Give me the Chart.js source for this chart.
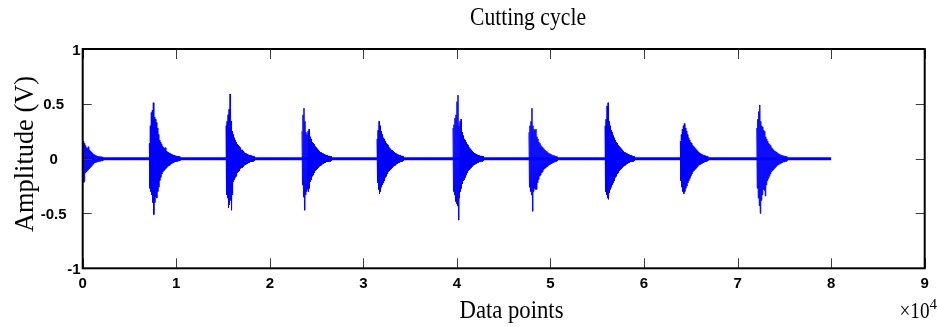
<!DOCTYPE html>
<html>
<head>
<meta charset="utf-8">
<title>Cutting cycle</title>
<script src="https://cdn.jsdelivr.net/npm/chart.js@4/dist/chart.umd.min.js"></script>
<style>
  html, body { margin: 0; padding: 0; background: #ffffff; }
  #plot { display: block; }
</style>
</head>
<body>
<canvas id="plot" width="938" height="327"></canvas>
<script>
// Axis ticks
const xTickValues = [0, 10000, 20000, 30000, 40000, 50000, 60000, 70000, 80000, 90000];
const xTickLabels = ['0', '1', '2', '3', '4', '5', '6', '7', '8', '9'];
const yTickValues = [-1, -0.5, 0, 0.5, 1];
const yTickLabels = ['-1', '-0.5', '0', '0.5', '1'];

// Recording length (data points) and the first sample of each cutting burst
const signalLength = 80000;
const burstOnsets = [0, 7120, 15320, 23440, 31460, 39580, 47700, 55830, 63880, 72050];
// Data points covered by one envelope column
const columnSpan = 107;

// Positive peak amplitude (V) of each burst, column by column from its onset
const upperEnvelope = [
  [0.17, 0.16, 0.14, 0.12, 0.10, 0.10, 0.11, 0.08, 0.07, 0.06, 0.05, 0.04, 0.036, 0.03, 0.027, 0.024, 0.02, 0.02, 0.018, 0.018, 0.015],
  [0.14, 0.30, 0.42, 0.44, 0.51, 0.38, 0.36, 0.33, 0.28, 0.22, 0.17, 0.15, 0.13, 0.11, 0.10, 0.09, 0.10, 0.07, 0.06, 0.055, 0.05, 0.045, 0.04, 0.035, 0.03, 0.03, 0.025, 0.025, 0.02, 0.02, 0.02],
  [0.30, 0.34, 0.40, 0.45, 0.59, 0.34, 0.25, 0.22, 0.19, 0.17, 0.15, 0.13, 0.12, 0.11, 0.10, 0.08, 0.08, 0.07, 0.055, 0.05, 0.045, 0.04, 0.035, 0.03, 0.03, 0.028, 0.025, 0.022, 0.02],
  [0.25, 0.40, 0.46, 0.34, 0.24, 0.22, 0.25, 0.27, 0.20, 0.18, 0.15, 0.14, 0.13, 0.11, 0.10, 0.09, 0.08, 0.07, 0.06, 0.055, 0.05, 0.045, 0.04, 0.035, 0.03, 0.03, 0.025, 0.025, 0.02, 0.02],
  [0.18, 0.26, 0.34, 0.30, 0.25, 0.22, 0.19, 0.18, 0.16, 0.14, 0.13, 0.12, 0.10, 0.09, 0.08, 0.075, 0.07, 0.06, 0.05, 0.045, 0.04, 0.035, 0.03, 0.03, 0.025, 0.025, 0.02],
  [0.28, 0.31, 0.37, 0.40, 0.52, 0.58, 0.30, 0.34, 0.36, 0.24, 0.21, 0.18, 0.17, 0.15, 0.13, 0.12, 0.10, 0.09, 0.08, 0.07, 0.06, 0.05, 0.045, 0.04, 0.035, 0.03, 0.03, 0.025, 0.025, 0.02, 0.02],
  [0.24, 0.30, 0.34, 0.46, 0.30, 0.27, 0.26, 0.27, 0.20, 0.18, 0.15, 0.14, 0.12, 0.11, 0.10, 0.09, 0.08, 0.07, 0.065, 0.055, 0.05, 0.045, 0.04, 0.035, 0.03, 0.03, 0.025, 0.022, 0.02],
  [0.30, 0.36, 0.48, 0.51, 0.34, 0.30, 0.26, 0.24, 0.21, 0.19, 0.17, 0.15, 0.14, 0.12, 0.11, 0.10, 0.09, 0.08, 0.07, 0.06, 0.055, 0.05, 0.045, 0.04, 0.035, 0.03, 0.03, 0.025, 0.022, 0.02],
  [0.16, 0.22, 0.27, 0.30, 0.32, 0.28, 0.25, 0.22, 0.19, 0.17, 0.15, 0.14, 0.12, 0.11, 0.10, 0.09, 0.08, 0.07, 0.06, 0.05, 0.045, 0.04, 0.035, 0.03, 0.03, 0.025, 0.022, 0.02],
  [0.28, 0.36, 0.43, 0.49, 0.34, 0.30, 0.29, 0.26, 0.25, 0.20, 0.18, 0.16, 0.14, 0.13, 0.12, 0.10, 0.09, 0.08, 0.07, 0.065, 0.06, 0.05, 0.045, 0.04, 0.035, 0.03, 0.03, 0.025, 0.025, 0.022, 0.02]
];

// Negative peak amplitude (V) of each burst, same columns
const lowerEnvelope = [
  [-0.22, -0.21, -0.13, -0.12, -0.11, -0.10, -0.09, -0.08, -0.07, -0.06, -0.05, -0.04, -0.036, -0.033, -0.03, -0.027, -0.024, -0.024, -0.02, -0.02, -0.018],
  [-0.27, -0.30, -0.33, -0.40, -0.51, -0.40, -0.35, -0.36, -0.30, -0.26, -0.20, -0.17, -0.14, -0.12, -0.11, -0.10, -0.09, -0.08, -0.07, -0.065, -0.06, -0.05, -0.045, -0.04, -0.035, -0.03, -0.03, -0.025, -0.025, -0.02, -0.02],
  [-0.33, -0.36, -0.45, -0.42, -0.38, -0.47, -0.33, -0.21, -0.19, -0.17, -0.16, -0.13, -0.12, -0.11, -0.09, -0.085, -0.08, -0.07, -0.06, -0.055, -0.05, -0.045, -0.04, -0.035, -0.03, -0.03, -0.028, -0.025, -0.02],
  [-0.24, -0.35, -0.47, -0.33, -0.30, -0.28, -0.30, -0.27, -0.21, -0.19, -0.16, -0.15, -0.13, -0.11, -0.10, -0.09, -0.08, -0.07, -0.065, -0.06, -0.05, -0.045, -0.04, -0.035, -0.03, -0.03, -0.028, -0.025, -0.025, -0.02],
  [-0.22, -0.28, -0.32, -0.30, -0.26, -0.24, -0.22, -0.20, -0.17, -0.16, -0.14, -0.12, -0.11, -0.10, -0.09, -0.08, -0.07, -0.065, -0.06, -0.05, -0.045, -0.04, -0.035, -0.03, -0.03, -0.025, -0.02],
  [-0.30, -0.33, -0.39, -0.41, -0.43, -0.56, -0.36, -0.30, -0.27, -0.23, -0.20, -0.19, -0.17, -0.15, -0.13, -0.11, -0.10, -0.09, -0.08, -0.07, -0.06, -0.055, -0.05, -0.045, -0.04, -0.035, -0.03, -0.03, -0.025, -0.025, -0.02],
  [-0.26, -0.30, -0.33, -0.48, -0.30, -0.27, -0.28, -0.28, -0.22, -0.19, -0.16, -0.15, -0.13, -0.12, -0.10, -0.09, -0.085, -0.075, -0.07, -0.06, -0.055, -0.05, -0.045, -0.04, -0.035, -0.03, -0.028, -0.025, -0.02],
  [-0.30, -0.33, -0.36, -0.37, -0.31, -0.28, -0.26, -0.24, -0.22, -0.20, -0.17, -0.16, -0.14, -0.13, -0.11, -0.10, -0.09, -0.08, -0.07, -0.065, -0.06, -0.05, -0.045, -0.04, -0.035, -0.03, -0.03, -0.028, -0.025, -0.02],
  [-0.20, -0.26, -0.30, -0.32, -0.30, -0.27, -0.25, -0.22, -0.20, -0.18, -0.16, -0.14, -0.12, -0.11, -0.10, -0.09, -0.08, -0.07, -0.06, -0.055, -0.05, -0.045, -0.04, -0.035, -0.03, -0.028, -0.025, -0.02],
  [-0.27, -0.36, -0.43, -0.50, -0.38, -0.33, -0.28, -0.29, -0.34, -0.24, -0.20, -0.18, -0.16, -0.14, -0.12, -0.11, -0.10, -0.09, -0.08, -0.07, -0.06, -0.055, -0.05, -0.045, -0.04, -0.035, -0.03, -0.03, -0.025, -0.025, -0.02]
];

// Each column swings from its positive peak to its negative peak,
// which fills the burst the way a dense oscillation does.
const burstPoints = [];
burstOnsets.forEach((onset, b) => {
  upperEnvelope[b].forEach((hi, i) => {
    const x0 = onset + i * columnSpan;
    burstPoints.push({ x: x0, y: hi });
    burstPoints.push({ x: x0 + columnSpan / 2, y: lowerEnvelope[b][i] });
  });
  burstPoints.push({ x: onset + upperEnvelope[b].length * columnSpan, y: null });
});

// Quiet-floor trace between bursts
const floorPoints = [{ x: 0, y: 0 }, { x: signalLength, y: 0 }];

const SERIF = '"Liberation Serif", "Times New Roman", serif';
const SANS = '"Liberation Sans", Arial, Helvetica, sans-serif';

// Draw text squeezed or stretched horizontally to a given width
function fitText(ctx, text, font, x, y, width, rotate) {
  ctx.save();
  ctx.font = font;
  const natural = ctx.measureText(text).width;
  ctx.translate(x, y);
  if (rotate) ctx.rotate(-Math.PI / 2);
  ctx.scale(width / natural, 1);
  ctx.textAlign = 'center';
  ctx.textBaseline = 'alphabetic';
  ctx.fillText(text, 0, 0);
  ctx.restore();
}

const axesBox = {
  id: 'axesBox',
  afterDatasetsDraw(chart) {
    const { ctx, chartArea: a, scales } = chart;
    const xs = scales.x, ys = scales.y;
    ctx.save();

    // inward tick marks on all four sides
    ctx.strokeStyle = '#3c3c3c';
    ctx.lineWidth = 1;
    ctx.beginPath();
    xTickValues.forEach(v => {
      const px = Math.round(xs.getPixelForValue(v)) + 0.5;
      ctx.moveTo(px, a.bottom); ctx.lineTo(px, a.bottom - 10);
      ctx.moveTo(px, a.top); ctx.lineTo(px, a.top + 10);
    });
    yTickValues.forEach(v => {
      const py = Math.round(ys.getPixelForValue(v)) + 0.5;
      ctx.moveTo(a.left, py); ctx.lineTo(a.left + 9, py);
      ctx.moveTo(a.right, py); ctx.lineTo(a.right - 9, py);
    });
    ctx.stroke();

    // axes box
    ctx.strokeStyle = '#000000';
    ctx.lineWidth = 2;
    ctx.strokeRect(a.left, a.top, a.right - a.left, a.bottom - a.top);

    // tick labels
    ctx.fillStyle = '#000000';
    ctx.font = 'bold 15px ' + SANS;
    ctx.textBaseline = 'alphabetic';
    ctx.textAlign = 'center';
    xTickValues.forEach((v, i) => {
      ctx.fillText(xTickLabels[i], xs.getPixelForValue(v), a.bottom + 20);
    });
    yTickValues.forEach((v, i) => {
      const py = ys.getPixelForValue(v) + 5.5;
      if (Math.abs(v) === 1) {
        ctx.textAlign = 'right';
        ctx.fillText(yTickLabels[i], a.left - 2, py);
      } else {
        ctx.textAlign = 'center';
        ctx.fillText(yTickLabels[i], a.left - 29, py);
      }
    });

    // title, axis titles and the x exponent
    fitText(ctx, 'Cutting cycle', '25px ' + SERIF, 528, 25, 116, false);
    fitText(ctx, 'Data points', '25px ' + SERIF, 511.5, 318, 104, false);
    fitText(ctx, 'Amplitude (V)', '28px ' + SERIF, 33, 154, 156, true);
    fitText(ctx, '\u00d710', '24px ' + SERIF, 914.5, 318, 30, false);
    ctx.font = '15px ' + SERIF;
    ctx.textAlign = 'left';
    ctx.fillText('4', 929.5, 308.5);

    ctx.restore();
  }
};

new Chart(document.getElementById('plot'), {
  type: 'line',
  data: {
    datasets: [
      {
        data: floorPoints,
        borderColor: '#0000ff',
        borderWidth: 3,
        pointRadius: 0,
        tension: 0
      },
      {
        data: burstPoints,
        borderColor: '#0000ff',
        borderWidth: 1,
        borderJoinStyle: 'bevel',
        pointRadius: 0,
        tension: 0,
        spanGaps: false
      }
    ]
  },
  options: {
    responsive: false,
    devicePixelRatio: 1,
    animation: false,
    events: [],
    layout: { padding: { left: 82.7, right: 13.3, top: 49, bottom: 58.7 } },
    scales: {
      x: { type: 'linear', min: 0, max: 90000, display: false },
      y: { type: 'linear', min: -1, max: 1, display: false }
    },
    plugins: {
      legend: { display: false },
      tooltip: { enabled: false },
      title: { display: false }
    }
  },
  plugins: [axesBox]
});
</script>
</body>
</html>
